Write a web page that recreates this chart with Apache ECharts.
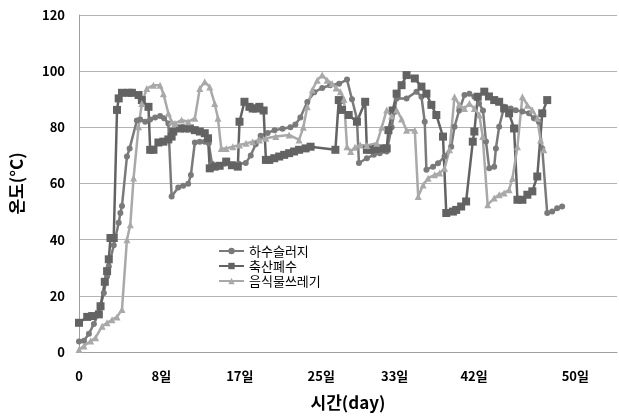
<!DOCTYPE html>
<html>
<head>
<meta charset="utf-8">
<script src="https://cdn.jsdelivr.net/npm/echarts@6/dist/echarts.min.js"></script>
<style>
  html, body { margin: 0; padding: 0; background: #fff; }
  #chart { width: 619px; height: 418px; }
</style>
</head>
<body>
<div id="chart"></div>
<script>
// x positions on the time axis, and where the day labels sit
const tickPos = [0, 8.3, 16.2, 24.4, 31.8, 39.8, 50];
const tickLabels = ['0', '8일', '17일', '25일', '33일', '42일', '50일'];

// 하수슬러지
const sludgeX = [0, 0.5, 1.0, 1.5, 2.0, 2.5, 2.83, 3.0, 3.5, 4.0, 4.17, 4.33, 4.83, 5.1, 5.83, 6.17, 6.67, 7.17, 7.67, 8.17,
  8.57, 9.0, 9.33, 10.0, 10.5, 11.0, 11.27, 11.67, 12.17, 12.67, 13.07, 13.4, 14.0, 14.7, 15.5, 16.1, 16.8, 17.3, 17.8, 18.3,
  19.0, 19.7, 20.5, 21.3, 21.8, 22.3, 23.0, 23.7, 24.5, 25.3, 26.2, 27.0, 27.5, 28.0, 28.2, 29.0, 29.7, 30.3, 31.0, 31.5,
  32.0, 33.0, 34.0, 34.5, 34.83, 35.0, 35.67, 36.17, 36.83, 37.5, 37.83, 38.3, 38.83, 39.33, 39.83, 40.3, 40.7, 41.0, 41.33, 41.83,
  42.0, 42.33, 42.83, 43.5, 44.0, 44.67, 45.33, 45.83, 46.33, 46.67, 47.17, 47.67, 48.17, 48.67];
const sludgeY = [3.7, 4, 6.5, 10, 14, 21, 27, 30.5, 38, 46, 49.5, 52, 69.6, 72.5, 82.4, 82.8, 82, 82.8, 83.5, 84,
  83.2, 81.4, 55.4, 58.6, 59.2, 59.9, 63, 74.6, 74.9, 74.9, 74.3, 67, 66.5, 67, 66.5, 67, 67.3, 70, 74, 77,
  78, 79, 79.5, 80, 81, 83.5, 89, 92.5, 94, 95, 95.5, 97, 90, 83, 67.3, 69, 70.2, 70.8, 71.4, 80,
  90.3, 90.3, 92.7, 90.9, 82, 64.9, 66, 67.2, 69.6, 73.1, 80.2, 86, 91.5, 92, 90.9, 88.5, 86, 75, 65.4, 66,
  72.5, 80.2, 87.3, 86.7, 86.1, 85.6, 85, 83.2, 82, 72.5, 49.5, 50, 51.2, 51.8];

// 축산폐수
const manureX = [0, 0.83, 1.33, 2.0, 2.17, 2.6, 2.83, 3.0, 3.17, 3.5, 3.83, 4.0, 4.33, 5.0, 5.33, 6.0, 6.33, 7.0, 7.17, 7.5,
  8.0, 8.5, 9.0, 9.33, 9.5, 10.17, 10.67, 11.17, 11.67, 12.17, 12.67, 13.0, 13.17, 13.67, 14.17, 14.83, 15.4, 16.0, 16.17, 16.67,
  17.17, 17.5, 17.83, 18.17, 18.6, 18.83, 19.17, 19.67, 20.17, 20.67, 21.17, 21.67, 22.17, 22.83, 23.33, 25.83, 26.17, 26.5, 27.17, 28.0,
  28.83, 29.0, 29.33, 29.9, 30.5, 31.0, 31.17, 31.6, 32.0, 32.5, 33.0, 33.83, 34.5, 35.0, 35.5, 36.0, 36.67, 37.0, 37.67, 38.0,
  38.5, 39.0, 39.67, 39.83, 40.17, 40.83, 41.3, 41.83, 42.33, 42.83, 43.33, 43.83, 44.17, 44.67, 45.17, 45.67, 46.17, 46.67, 47.17];
const manureY = [10.4, 12.5, 12.8, 13.4, 16.3, 25, 28.8, 33, 40.6, 40.6, 86.2, 90.3, 92.3, 92.3, 92.3, 91.5, 89.7, 87.3, 72, 72,
  74.6, 74.9, 75.7, 76.7, 78.5, 79.6, 79.6, 79.6, 79, 78.5, 77.9, 76.1, 65.4, 66, 66.3, 67.8, 66.5, 66, 82, 89.1,
  87.3, 86.7, 86.7, 87.3, 86, 68.4, 68.4, 69, 69.6, 70.2, 70.8, 71.4, 72, 72.5, 73.1, 72, 89.7, 86.2, 84.4, 82,
  89.1, 72, 72, 72.3, 72.5, 72.5, 79, 86, 92, 95, 98.6, 97.4, 94.5, 92, 88, 84.4, 76.7, 49.5, 50, 50.6,
  51.8, 53.6, 74.9, 78.5, 90.9, 92.7, 91, 89.7, 89.1, 86.7, 85, 79.6, 54.2, 54.2, 56, 57.2, 62.5, 85, 89.7];

// 음식물쓰레기
const foodX = [0, 0.5, 1.17, 1.67, 2.33, 2.83, 3.33, 3.83, 4.33, 4.83, 5.17, 5.5, 6.0, 6.33, 6.83, 7.5, 8.17, 8.5, 9.0, 9.33,
  9.67, 10.33, 11.0, 11.67, 12.17, 12.67, 13.17, 13.67, 14.0, 14.33, 14.83, 15.5, 16.17, 16.83, 17.5, 18.17, 18.83, 19.83, 21.17, 22.17,
  22.6, 23.0, 23.5, 24.0, 24.5, 25.0, 25.5, 25.9, 26.33, 26.7, 27.0, 27.37, 27.8, 28.33, 29.0, 30.0, 30.5, 31.0, 31.5, 32.0,
  32.5, 33.0, 33.83, 34.17, 34.67, 35.17, 35.83, 36.33, 36.83, 37.33, 37.83, 38.3, 38.83, 39.33, 39.83, 40.33, 40.67, 41.17, 41.83, 42.33,
  42.83, 43.33, 43.67, 44.17, 44.67, 45.17, 45.67, 46.17, 46.5, 46.83];
const foodY = [0.9, 2.1, 3.9, 5.1, 9.2, 10.4, 11.5, 12.5, 15.1, 40, 45.3, 62, 80.2, 88.5, 93.8, 95, 95, 92, 85, 82,
  81.4, 82.6, 82, 83.2, 93.8, 96.2, 94.4, 88.5, 83.2, 72.5, 72.5, 73.1, 73.7, 74.3, 74.9, 75.5, 76.1, 76.7, 77.3, 75.5,
  80, 87.3, 93.3, 96.8, 98.6, 96.8, 95.6, 94, 92.7, 90, 73.1, 71.4, 72.9, 73.7, 73.5, 74.3, 80, 86.2, 84, 86.2,
  83, 79, 79, 55.4, 59.5, 61.9, 63.1, 63.7, 65.4, 72, 90.9, 88, 86.7, 88.5, 86.7, 84.4, 76.7, 52.4, 54.8, 56,
  56.6, 57.8, 61.9, 73.1, 90.9, 87.9, 86.2, 83.2, 75.5, 72];

const font = '"Noto Sans CJK KR", "Noto Sans", sans-serif';

function pairs(xs, ys) {
  return xs.map((x, i) => [x, ys[i]]);
}

function makeSeries(name, xs, ys, color, symbol, size) {
  return {
    name: name,
    type: 'line',
    data: pairs(xs, ys),
    symbol: symbol,
    symbolSize: size,
    showAllSymbol: true,
    lineStyle: {color: color, width: 2.5},
    itemStyle: {color: color},
    z: 2
  };
}

const chart = echarts.init(document.getElementById('chart'));
chart.setOption({
  animation: false,
  grid: {left: 75, right: 2, top: 15, bottom: 66},
  legend: {
    orient: 'vertical',
    left: 213,
    top: 239,
    itemWidth: 25,
    itemHeight: 8,
    itemGap: 1,
    textStyle: {fontFamily: font, fontSize: 13, lineHeight: 14, color: '#000'},
    data: ['하수슬러지', '축산폐수', '음식물쓰레기']
  },
  xAxis: {
    type: 'value',
    min: 0,
    max: 54.2,
    name: '시간(day)',
    nameLocation: 'middle',
    nameGap: 42,
    nameTextStyle: {fontFamily: font, fontSize: 17, fontWeight: 'bold', color: '#000'},
    axisLine: {show: true, lineStyle: {color: '#a0a0a0', width: 1}},
    axisTick: {show: false},
    splitLine: {show: false},
    axisLabel: {
      customValues: tickPos,
      margin: 18,
      fontFamily: font,
      fontSize: 13,
      fontWeight: 'bold',
      color: '#000',
      formatter: function (v) {
        const i = tickPos.indexOf(v);
        return i >= 0 ? tickLabels[i] : '';
      }
    }
  },
  yAxis: {
    type: 'value',
    min: 0,
    max: 120,
    interval: 20,
    name: '온도(°C)',
    nameLocation: 'middle',
    nameGap: 54,
    nameTextStyle: {fontFamily: font, fontSize: 17, fontWeight: 'bold', color: '#000'},
    axisLine: {show: true, lineStyle: {color: '#a0a0a0', width: 1}},
    axisTick: {show: false},
    splitLine: {lineStyle: {color: '#b4b4b4', width: 1}},
    axisLabel: {margin: 14, fontFamily: font, fontSize: 13, fontWeight: 'bold', color: '#000'}
  },
  series: [
    makeSeries('하수슬러지', sludgeX, sludgeY, '#7a7a7a', 'circle', 6),
    makeSeries('축산폐수', manureX, manureY, '#636363', 'rect', 8),
    makeSeries('음식물쓰레기', foodX, foodY, '#a9a9a9', 'triangle', 7)
  ]
});
</script>
</body>
</html>
